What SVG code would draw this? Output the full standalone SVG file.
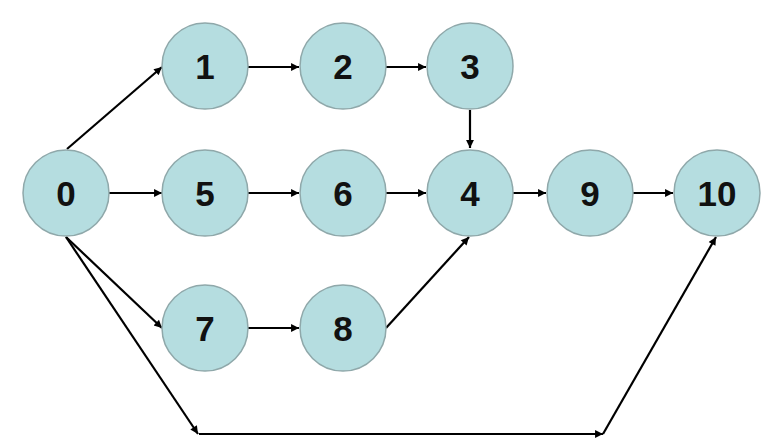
<svg xmlns="http://www.w3.org/2000/svg" width="770" height="443" viewBox="0 0 770 443">
<defs>
<style>
.n circle{fill:#b5dde0;stroke:#8fa8aa;stroke-width:1.5}
.n text{font-family:"Liberation Sans",Arial,sans-serif;font-weight:bold;font-size:35px;fill:#111;text-anchor:middle}
#edges line{stroke:#000;stroke-width:2.2;marker-end:url(#ah)}
</style>
<marker id="ah" viewBox="0 0 10 10" refX="10" refY="5" markerWidth="4.5" markerHeight="3.6" orient="auto" markerUnits="strokeWidth">
<path d="M0,0 L10,5 L0,10 z" fill="#000"/>
</marker>
</defs>
<rect width="770" height="443" fill="#fff"/>
<g id="edges">
<line x1="67" y1="149" x2="162" y2="67"/>
<line x1="109" y1="193" x2="162" y2="193"/>
<line x1="66" y1="237" x2="162" y2="328"/>
<line x1="66" y1="237" x2="198" y2="434"/>
<line x1="199" y1="434" x2="603" y2="434"/>
<line x1="603" y1="434" x2="716" y2="237"/>
<line x1="248" y1="67" x2="299" y2="67"/>
<line x1="386" y1="67" x2="426" y2="67"/>
<line x1="470" y1="110" x2="470" y2="148"/>
<line x1="248" y1="193" x2="299" y2="193"/>
<line x1="386" y1="193" x2="426" y2="193"/>
<line x1="513" y1="193" x2="546" y2="193"/>
<line x1="633" y1="193" x2="673" y2="193"/>
<line x1="248" y1="328" x2="299" y2="328"/>
<line x1="386" y1="328" x2="469" y2="237"/>
</g>
<g id="n0" class="n"><circle cx="66" cy="193" r="43"/><text x="66" y="205.5">0</text></g>
<g id="n1" class="n"><circle cx="205" cy="66" r="43"/><text x="205" y="78.5">1</text></g>
<g id="n2" class="n"><circle cx="343" cy="66" r="43"/><text x="343" y="78.5">2</text></g>
<g id="n3" class="n"><circle cx="470" cy="66" r="43"/><text x="470" y="78.5">3</text></g>
<g id="n5" class="n"><circle cx="205" cy="193" r="43"/><text x="205" y="205.5">5</text></g>
<g id="n6" class="n"><circle cx="343" cy="193" r="43"/><text x="343" y="205.5">6</text></g>
<g id="n4" class="n"><circle cx="470" cy="193" r="43"/><text x="470" y="205.5">4</text></g>
<g id="n9" class="n"><circle cx="590" cy="193" r="43"/><text x="590" y="205.5">9</text></g>
<g id="n10" class="n"><circle cx="717" cy="193" r="43"/><text x="717" y="205.5">10</text></g>
<g id="n7" class="n"><circle cx="205" cy="328" r="43"/><text x="205" y="340.5">7</text></g>
<g id="n8" class="n"><circle cx="343" cy="328" r="43"/><text x="343" y="340.5">8</text></g>
</svg>
